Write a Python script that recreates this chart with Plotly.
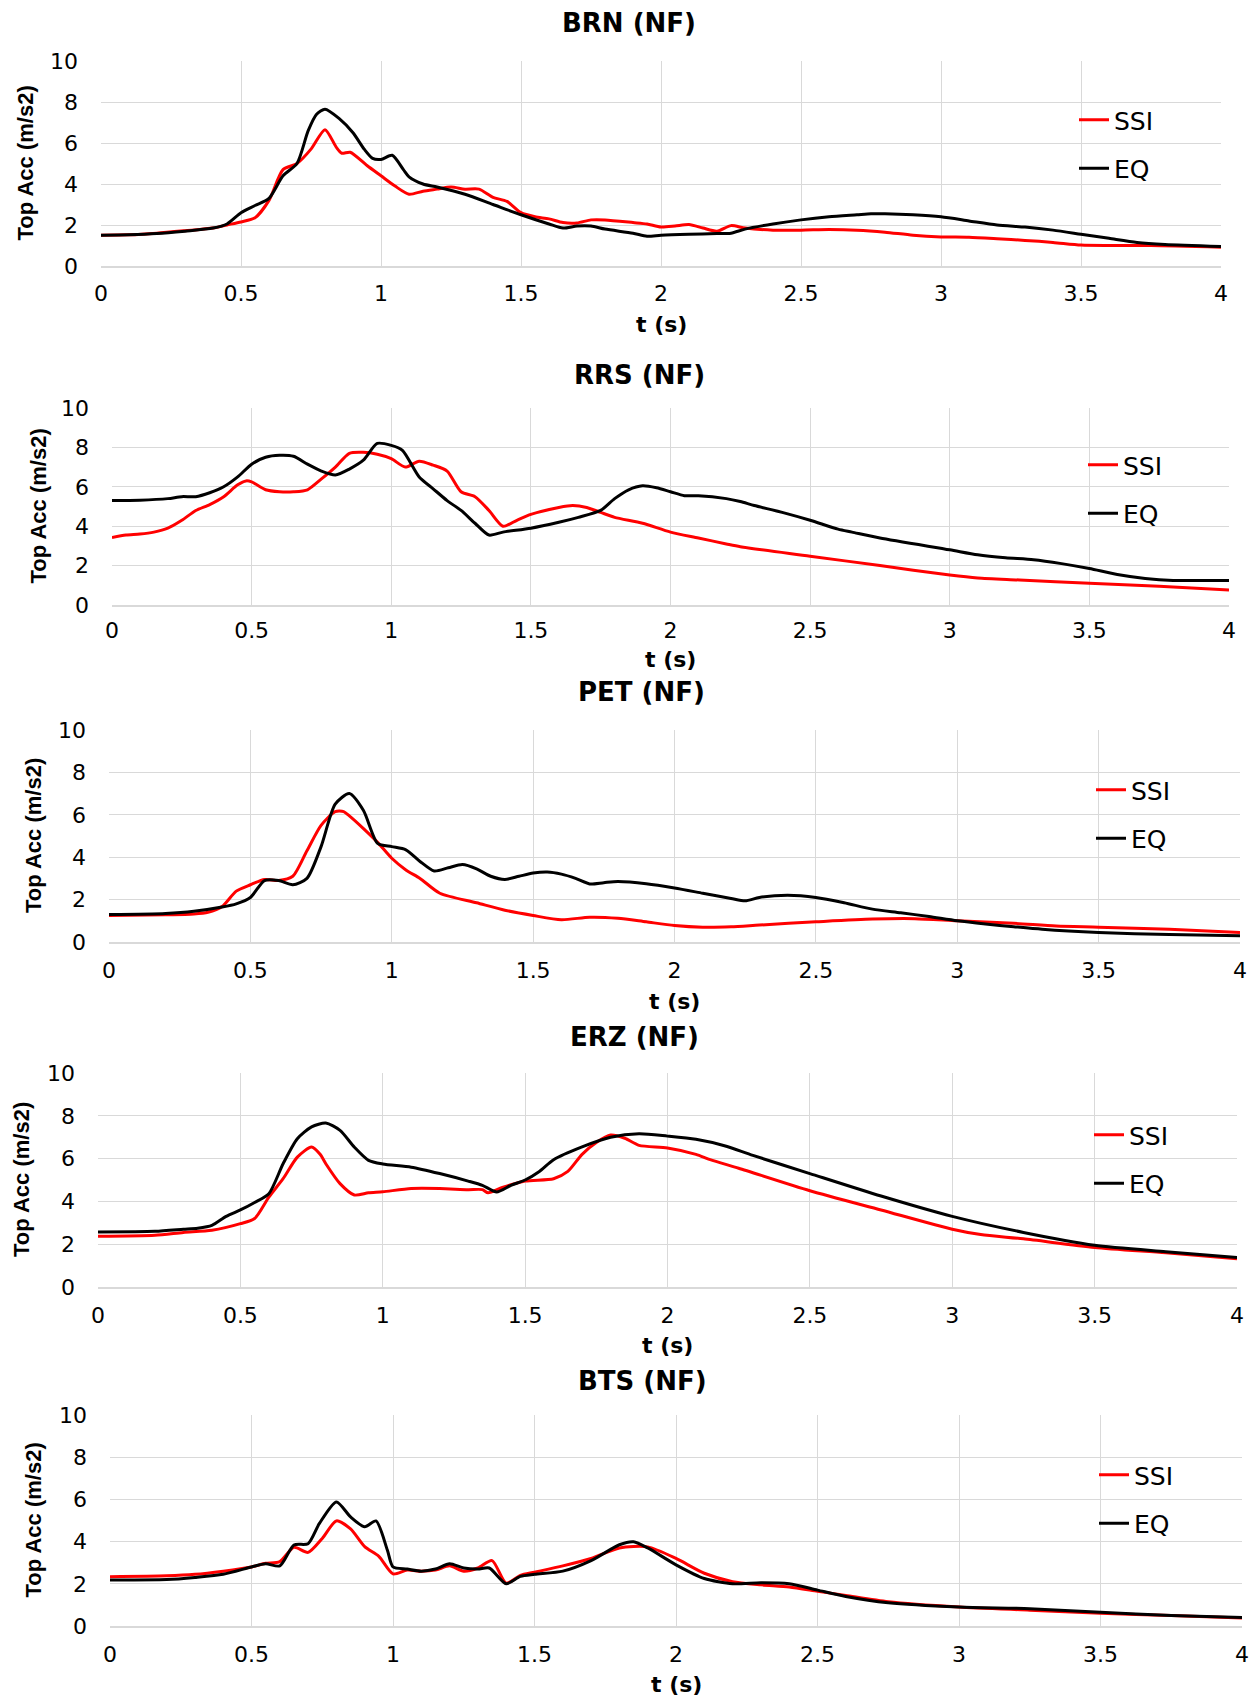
import plotly.graph_objects as go

# page is 1258x1697; the browser body adds an 8px margin, so the figure is 8px smaller
PAGE_W, PAGE_H = 1258, 1697
OFF = 8
W, H = PAGE_W - OFF, PAGE_H - OFF

# ---------------- data ----------------
PANEL_TITLES = ["BRN (NF)", "RRS (NF)", "PET (NF)", "ERZ (NF)", "BTS (NF)"]
SERIES_NAMES = ["SSI", "EQ"]
X_TITLE = "t (s)"
Y_TITLE = "Top Acc (m/s2)"
X_TICKS = [0, 0.5, 1, 1.5, 2, 2.5, 3, 3.5, 4]
X_TICK_LABELS = ["0", "0.5", "1", "1.5", "2", "2.5", "3", "3.5", "4"]
Y_TICKS = [0, 2, 4, 6, 8, 10]
Y_TICK_LABELS = ["0", "2", "4", "6", "8", "10"]

# BRN
BRN_T_SSI = [0, 0.1, 0.2, 0.3, 0.4, 0.45, 0.5, 0.55, 0.6, 0.65, 0.7, 0.75, 0.8, 0.84, 0.86, 0.89,
             0.95, 1.0, 1.05, 1.1, 1.15, 1.2, 1.25, 1.3, 1.35, 1.4, 1.45, 1.5, 1.55, 1.6, 1.65, 1.7,
             1.75, 1.8, 1.9, 1.95, 2.0, 2.05, 2.1, 2.15, 2.2, 2.25, 2.3, 2.4, 2.5, 2.6, 2.7, 2.8,
             2.9, 3.0, 3.1, 3.2, 3.3, 3.4, 3.5, 3.6, 3.75, 4.0]
BRN_SSI = [1.5, 1.52, 1.6, 1.72, 1.85, 2.0, 2.15, 2.35, 3.2, 4.7, 5.0, 5.7, 6.65, 5.8, 5.5, 5.55,
           4.9, 4.4, 3.9, 3.5, 3.65, 3.75, 3.85, 3.75, 3.75, 3.35, 3.15, 2.6, 2.4, 2.3, 2.12, 2.1,
           2.25, 2.25, 2.12, 2.05, 1.9, 1.95, 2.02, 1.85, 1.7, 1.97, 1.85, 1.75, 1.75, 1.78, 1.75, 1.65,
           1.5, 1.42, 1.4, 1.33, 1.25, 1.15, 1.02, 1.0, 1.0, 0.92]
BRN_T_EQ = [0, 0.1, 0.2, 0.3, 0.4, 0.45, 0.5, 0.55, 0.6, 0.65, 0.7, 0.74, 0.77, 0.8, 0.85, 0.9,
            0.94, 0.97, 1.0, 1.04, 1.08, 1.1, 1.15, 1.2, 1.3, 1.4, 1.5, 1.6, 1.65, 1.7, 1.75, 1.8,
            1.9, 1.95, 2.0, 2.1, 2.2, 2.25, 2.3, 2.4, 2.5, 2.6, 2.7, 2.75, 2.8, 2.9, 3.0, 3.1,
            3.2, 3.3, 3.4, 3.5, 3.6, 3.7, 3.8, 4.0]
BRN_EQ = [1.5, 1.52, 1.58, 1.7, 1.85, 2.05, 2.6, 2.95, 3.3, 4.4, 5.0, 6.6, 7.4, 7.65, 7.2, 6.5,
          5.7, 5.25, 5.2, 5.4, 4.7, 4.35, 4.0, 3.85, 3.5, 3.0, 2.5, 2.05, 1.85, 1.95, 1.95, 1.8,
          1.6, 1.45, 1.5, 1.55, 1.58, 1.6, 1.8, 2.05, 2.25, 2.4, 2.5, 2.55, 2.55, 2.5, 2.4, 2.2,
          2.0, 1.9, 1.75, 1.55, 1.35, 1.15, 1.05, 0.95]

# RRS
RRS_T_SSI = [0, 0.05, 0.1, 0.15, 0.2, 0.25, 0.3, 0.35, 0.4, 0.45, 0.48, 0.5, 0.55, 0.6, 0.65, 0.7,
             0.75, 0.8, 0.85, 0.9, 0.95, 1.0, 1.05, 1.1, 1.15, 1.2, 1.25, 1.3, 1.35, 1.4, 1.45, 1.5,
             1.6, 1.65, 1.7, 1.75, 1.8, 1.9, 2.0, 2.1, 2.2, 2.25, 2.5, 2.75, 3.0, 3.1, 3.25, 3.5,
             3.75, 4.0]
RRS_SSI = [3.43, 3.55, 3.6, 3.7, 3.9, 4.3, 4.8, 5.1, 5.5, 6.1, 6.3, 6.25, 5.85, 5.75, 5.75, 5.85,
           6.4, 7.0, 7.7, 7.75, 7.65, 7.43, 7.0, 7.3, 7.1, 6.8, 5.75, 5.5, 4.8, 4.0, 4.3, 4.6,
           4.95, 5.05, 4.95, 4.7, 4.45, 4.15, 3.7, 3.4, 3.1, 2.96, 2.48, 2.0, 1.52, 1.37, 1.27, 1.1,
           0.95, 0.76]
RRS_T_EQ = [0, 0.1, 0.2, 0.25, 0.3, 0.35, 0.4, 0.45, 0.5, 0.55, 0.6, 0.65, 0.7, 0.75, 0.8, 0.85,
            0.9, 0.95, 1.0, 1.04, 1.1, 1.15, 1.2, 1.25, 1.3, 1.35, 1.4, 1.5, 1.6, 1.67, 1.75, 1.8,
            1.85, 1.9, 1.95, 2.0, 2.05, 2.1, 2.2, 2.25, 2.3, 2.4, 2.5, 2.6, 2.65, 2.75, 3.0, 3.1,
            3.2, 3.3, 3.4, 3.5, 3.6, 3.7, 3.8, 4.0]
RRS_EQ = [5.3, 5.32, 5.4, 5.5, 5.5, 5.7, 6.0, 6.5, 7.15, 7.5, 7.6, 7.55, 7.15, 6.8, 6.6, 6.9,
          7.35, 8.2, 8.1, 7.85, 6.5, 5.9, 5.3, 4.8, 4.15, 3.55, 3.7, 3.9, 4.2, 4.45, 4.8, 5.4,
          5.85, 6.05, 5.95, 5.75, 5.55, 5.55, 5.4, 5.25, 5.05, 4.7, 4.3, 3.85, 3.7, 3.4, 2.8, 2.55,
          2.4, 2.3, 2.1, 1.85, 1.55, 1.35, 1.25, 1.25]

# PET
PET_T_SSI = [0, 0.2, 0.3, 0.35, 0.4, 0.45, 0.5, 0.55, 0.6, 0.65, 0.7, 0.75, 0.8, 0.83, 0.85, 0.9,
             0.95, 1.0, 1.05, 1.1, 1.17, 1.3, 1.4, 1.5, 1.6, 1.7, 1.8, 1.9, 2.0, 2.1, 2.2, 2.3,
             2.5, 2.7, 2.85, 3.0, 3.2, 3.35, 3.5, 3.75, 4.0]
PET_SSI = [1.25, 1.28, 1.32, 1.4, 1.67, 2.4, 2.7, 2.95, 2.9, 3.1, 4.3, 5.5, 6.15, 6.15, 5.95, 5.35,
           4.7, 3.95, 3.4, 3.0, 2.3, 1.85, 1.5, 1.25, 1.05, 1.17, 1.12, 0.95, 0.78, 0.7, 0.72, 0.8,
           0.95, 1.08, 1.1, 1.0, 0.88, 0.75, 0.7, 0.6, 0.45]
PET_T_EQ = [0, 0.2, 0.3, 0.4, 0.45, 0.5, 0.55, 0.6, 0.65, 0.7, 0.75, 0.8, 0.85, 0.9, 0.95, 1.0,
            1.05, 1.1, 1.15, 1.2, 1.25, 1.3, 1.35, 1.4, 1.45, 1.5, 1.55, 1.6, 1.65, 1.7, 1.75, 1.8,
            1.9, 2.0, 2.1, 2.2, 2.25, 2.3, 2.4, 2.5, 2.6, 2.7, 2.8, 2.9, 3.0, 3.1, 3.2, 3.3,
            3.5, 3.75, 4.0]
PET_EQ = [1.3, 1.35, 1.45, 1.65, 1.8, 2.1, 2.9, 2.9, 2.7, 3.0, 4.5, 6.5, 7.0, 6.2, 4.65, 4.5,
          4.35, 3.8, 3.35, 3.5, 3.65, 3.45, 3.1, 2.95, 3.1, 3.25, 3.3, 3.2, 3.0, 2.74, 2.8, 2.85,
          2.75, 2.55, 2.3, 2.05, 1.94, 2.1, 2.2, 2.1, 1.85, 1.55, 1.38, 1.2, 1.0, 0.85, 0.72, 0.6,
          0.45, 0.35, 0.3]

# ERZ
ERZ_T_SSI = [0, 0.2, 0.3, 0.4, 0.5, 0.55, 0.6, 0.65, 0.7, 0.75, 0.78, 0.8, 0.85, 0.9, 0.95, 1.0,
             1.1, 1.2, 1.3, 1.35, 1.37, 1.42, 1.5, 1.6, 1.65, 1.7, 1.75, 1.8, 1.85, 1.9, 2.0, 2.1,
             2.15, 2.25, 2.5, 2.75, 3.0, 3.1, 3.25, 3.5, 3.75, 4.0]
ERZ_SSI = [2.37, 2.42, 2.55, 2.65, 2.96, 3.2, 4.2, 5.06, 6.07, 6.54, 6.2, 5.76, 4.83, 4.3, 4.4, 4.45,
           4.6, 4.6, 4.55, 4.55, 4.4, 4.65, 4.95, 5.06, 5.4, 6.2, 6.75, 7.1, 6.95, 6.62, 6.5, 6.2,
           5.95, 5.55, 4.5, 3.6, 2.7, 2.45, 2.25, 1.85, 1.6, 1.32]
ERZ_T_EQ = [0, 0.2, 0.3, 0.35, 0.4, 0.45, 0.5, 0.55, 0.6, 0.65, 0.7, 0.75, 0.8, 0.85, 0.9, 0.95,
            1.0, 1.1, 1.2, 1.3, 1.35, 1.4, 1.45, 1.5, 1.55, 1.6, 1.7, 1.8, 1.9, 2.0, 2.1, 2.2,
            2.3, 2.5, 2.75, 3.0, 3.25, 3.5, 3.75, 4.0]
ERZ_EQ = [2.57, 2.6, 2.7, 2.75, 2.88, 3.3, 3.6, 3.95, 4.36, 5.76, 6.93, 7.48, 7.66, 7.32, 6.54, 5.92,
          5.75, 5.6, 5.3, 4.95, 4.75, 4.44, 4.75, 5.0, 5.4, 5.95, 6.55, 7.0, 7.16, 7.05, 6.9, 6.6,
          6.15, 5.3, 4.25, 3.3, 2.55, 1.95, 1.65, 1.38]

# BTS
BTS_T_SSI = [0, 0.2, 0.3, 0.4, 0.5, 0.55, 0.6, 0.65, 0.7, 0.75, 0.8, 0.85, 0.9, 0.95, 1.0, 1.05,
             1.1, 1.15, 1.2, 1.25, 1.3, 1.35, 1.4, 1.45, 1.5, 1.6, 1.7, 1.8, 1.9, 2.0, 2.1, 2.2,
             2.3, 2.4, 2.5, 2.6, 2.75, 3.0, 3.25, 3.5, 3.75, 4.0]
BTS_SSI = [2.34, 2.38, 2.45, 2.6, 2.8, 2.97, 3.05, 3.73, 3.49, 4.15, 4.98, 4.6, 3.76, 3.3, 2.47, 2.65,
           2.6, 2.65, 2.85, 2.6, 2.75, 3.1, 2.03, 2.4, 2.55, 2.85, 3.2, 3.7, 3.75, 3.2, 2.5, 2.1,
           1.95, 1.85, 1.65, 1.45, 1.15, 0.9, 0.75, 0.6, 0.5, 0.38]
BTS_T_EQ = [0, 0.2, 0.3, 0.4, 0.5, 0.55, 0.6, 0.65, 0.7, 0.74, 0.8, 0.85, 0.9, 0.94, 0.98, 1.0,
            1.05, 1.1, 1.15, 1.2, 1.25, 1.3, 1.34, 1.4, 1.45, 1.5, 1.6, 1.7, 1.8, 1.85, 1.9, 2.0,
            2.1, 2.2, 2.3, 2.4, 2.5, 2.6, 2.75, 3.0, 3.25, 3.5, 3.75, 4.0]
BTS_EQ = [2.18, 2.2, 2.3, 2.45, 2.8, 2.95, 2.85, 3.84, 3.9, 4.86, 5.88, 5.17, 4.7, 4.98, 3.6, 2.8,
          2.7, 2.6, 2.7, 2.95, 2.75, 2.7, 2.75, 2.0, 2.35, 2.45, 2.6, 3.1, 3.85, 3.99, 3.7, 2.9,
          2.25, 2.0, 2.05, 2.0, 1.7, 1.4, 1.1, 0.9, 0.82, 0.65, 0.5, 0.4]

PANEL_DATA = [
    (BRN_T_SSI, BRN_SSI, BRN_T_EQ, BRN_EQ),
    (RRS_T_SSI, RRS_SSI, RRS_T_EQ, RRS_EQ),
    (PET_T_SSI, PET_SSI, PET_T_EQ, PET_EQ),
    (ERZ_T_SSI, ERZ_SSI, ERZ_T_EQ, ERZ_EQ),
    (BTS_T_SSI, BTS_SSI, BTS_T_EQ, BTS_EQ),
]

# ---------------- layout (page pixel geometry) ----------------
# plot boxes: (left, right, top, bottom)
BOXES = [(101, 1221, 61, 266), (112, 1229, 408, 605), (109, 1240, 730, 942),
         (98, 1237, 1073, 1287), (110, 1242, 1415, 1626)]
TITLE_POS = [(629, 23), (639, 375), (641, 692), (634, 1037), (642, 1381)]
YTITLE_X = [25, 38, 33, 21, 33]
XTITLE_Y = [324, 659, 1001, 1345, 1684]
XTICK_STANDOFF = [7, 5, 8, 8, 8]
LEGEND_POS = [(1079, 118), (1088, 463), (1096, 788), (1094, 1133), (1099, 1473)]

COLORS = ["#ff0000", "#000000"]
GRID = "#d9d9d9"
TICK_FONT = dict(family="DejaVu Sans", size=22, color="#000000")

fig = go.Figure()
layout = dict(width=W, height=H,
              margin=dict(l=0, r=0, t=0, b=0, pad=0, autoexpand=False),
              paper_bgcolor="white", plot_bgcolor="white", showlegend=True)
annotations = []

def px(x):
    return (x - OFF) / W

def py(y):
    return 1 - (y - OFF) / H

for i, (box, data) in enumerate(zip(BOXES, PANEL_DATA)):
    n = i + 1
    sfx = "" if n == 1 else str(n)
    l, r, t, b = box
    xa, ya = "x" + sfx, "y" + sfx
    lg = "legend" + sfx
    pairs = [(data[0], data[1]), (data[2], data[3])]
    for k, (tx, vy) in enumerate(pairs):
        fig.add_trace(go.Scatter(
            x=tx, y=vy, mode="lines", name=SERIES_NAMES[k],
            line=dict(color=COLORS[k], width=3, shape="spline", smoothing=0.7),
            xaxis=xa, yaxis=ya, legend=lg, legendgroup=f"g{n}{k}",
            hoverinfo="skip"))
    layout["xaxis" + sfx] = dict(
        domain=[px(l), px(r)], anchor=ya, range=[0, 4], automargin=False,
        tickmode="array", tickvals=X_TICKS, ticktext=X_TICK_LABELS,
        showgrid=True, gridcolor=GRID, gridwidth=1.3, zeroline=False,
        showline=True, linecolor=GRID, linewidth=1.6,
        ticks="", tickfont=TICK_FONT, ticklabelstandoff=XTICK_STANDOFF[i], fixedrange=True)
    layout["yaxis" + sfx] = dict(
        domain=[py(b), py(t)], anchor=xa, range=[0, 10], automargin=False,
        tickmode="array", tickvals=Y_TICKS, ticktext=Y_TICK_LABELS,
        showgrid=True, gridcolor=GRID, gridwidth=1.3, zeroline=False,
        showline=False, ticks="", tickfont=TICK_FONT, ticklabelstandoff=22,
        fixedrange=True)
    lx, ly = LEGEND_POS[i]
    layout[lg] = dict(x=px(lx - 5), y=py(ly - 21), xanchor="left", yanchor="top",
                      bgcolor="rgba(0,0,0,0)", tracegroupgap=13,
                      font=dict(family="DejaVu Sans", size=25, color="#000000"))
    tx_, ty_ = TITLE_POS[i]
    annotations.append(dict(text="<b>" + PANEL_TITLES[i] + "</b>", x=px(tx_), y=py(ty_),
                            xref="paper", yref="paper", xanchor="center", yanchor="middle",
                            showarrow=False,
                            font=dict(family="DejaVu Sans", size=26, color="#000000")))
    annotations.append(dict(text="<b>" + Y_TITLE + "</b>", x=px(YTITLE_X[i]), y=py((t + b) / 2),
                            xref="paper", yref="paper", xanchor="center", yanchor="middle",
                            textangle=-90, showarrow=False,
                            font=dict(family="Liberation Sans", size=22, color="#000000")))
    annotations.append(dict(text="<b>" + X_TITLE + "</b>", x=px((l + r) / 2), y=py(XTITLE_Y[i]),
                            xref="paper", yref="paper", xanchor="center", yanchor="middle",
                            showarrow=False,
                            font=dict(family="DejaVu Sans", size=22, color="#000000")))

layout["annotations"] = annotations
fig.update_layout(**layout)
fig.write_html("out.html")
